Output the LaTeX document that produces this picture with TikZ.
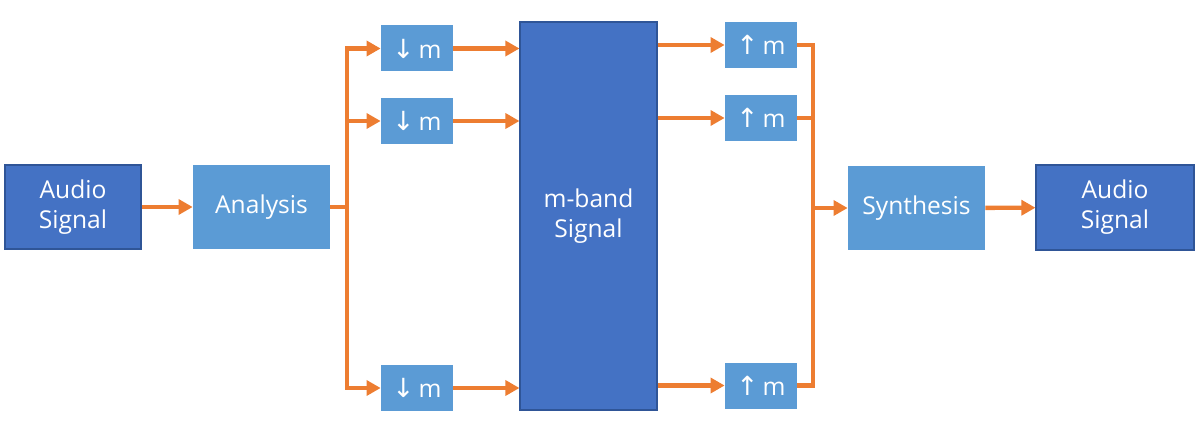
\documentclass[tikz,border=0pt]{standalone}
\usepackage{fontspec}
\setmainfont{Open Sans}
\newfontfamily\symfont{DejaVu Sans}
\usepackage{tikz}
\usetikzlibrary{arrows.meta, positioning}
\definecolor{darkblue}{HTML}{4472C4}
\definecolor{darkedge}{HTML}{2F5597}
\definecolor{lightblue}{HTML}{5B9BD5}
\definecolor{flowcol}{HTML}{ED7D31}
\newcommand{\dnm}{{\symfont\fontsize{15}{16}\selectfont ↓}\,m}
\newcommand{\upm}{{\symfont\fontsize{15}{16}\selectfont ↑}\,m}

\begin{document}
\begin{tikzpicture}[x=0.02cm, y=0.02cm,
        every node/.style={text=white, font=\fontsize{14}{17}\selectfont, align=center, inner sep=0pt},
        darkbox/.style={rectangle, fill=darkblue, draw=darkedge, line width=0.6pt},
        lightbox/.style={rectangle, fill=lightblue, minimum width=137*0.02cm, minimum height=84*0.02cm},
        smallbox/.style={rectangle, fill=lightblue, minimum width=72*0.02cm, minimum height=46*0.02cm},
        wire/.style={draw=flowcol, line width=2.5pt},
        flow/.style={wire, -{Triangle[length=8pt, width=8.5pt]}}]
        \useasboundingbox (0,0) rectangle (1200,440);

        % Nodes
        \node[darkbox, minimum width=136*0.02cm, minimum height=84*0.02cm] (src) at (73, 233) {Audio\\Signal};
        \node[lightbox] (analysis) at (261.5, 233) {Analysis};
        \node[smallbox] (down1) at (417, 391.5) {\dnm};
        \node[smallbox] (down2) at (417, 319) {\dnm};
        \node[smallbox] (down3) at (417, 52) {\dnm};
        \node[darkbox, minimum width=137*0.02cm, minimum height=388*0.02cm] (bands) at (588.5, 224) {m-band\\Signal};
        \node[smallbox] (up1) at (761, 395) {\upm};
        \node[smallbox] (up2) at (761, 322) {\upm};
        \node[smallbox] (up3) at (761, 54.5) {\upm};
        \node[lightbox] (synthesis) at (916.5, 232) {Synthesis};
        \node[darkbox, minimum width=158*0.02cm, minimum height=85*0.02cm] (dst) at (1115, 232.5) {Audio\\Signal};

        % Bus points
        \coordinate (splitL) at (347, 233);
        \coordinate (joinR) at (813, 232);

        % Arrows
        \draw[flow] (src) -- (analysis);
        \draw[wire] (analysis) -- (splitL);
        \foreach \b in {down1, down2, down3} {
            \draw[flow] (splitL) |- (\b.west);
            \draw[flow] (\b.east) -- (\b.east -| bands.west);
        }
        \foreach \b in {up1, up2, up3} {
            \draw[flow] (bands.east |- \b) -- (\b.west);
            \draw[wire] (\b.east) -| (joinR);
        }
        \draw[flow] (joinR) -- (synthesis);
        \draw[flow] (synthesis) -- (dst);
\end{tikzpicture}
\end{document}
